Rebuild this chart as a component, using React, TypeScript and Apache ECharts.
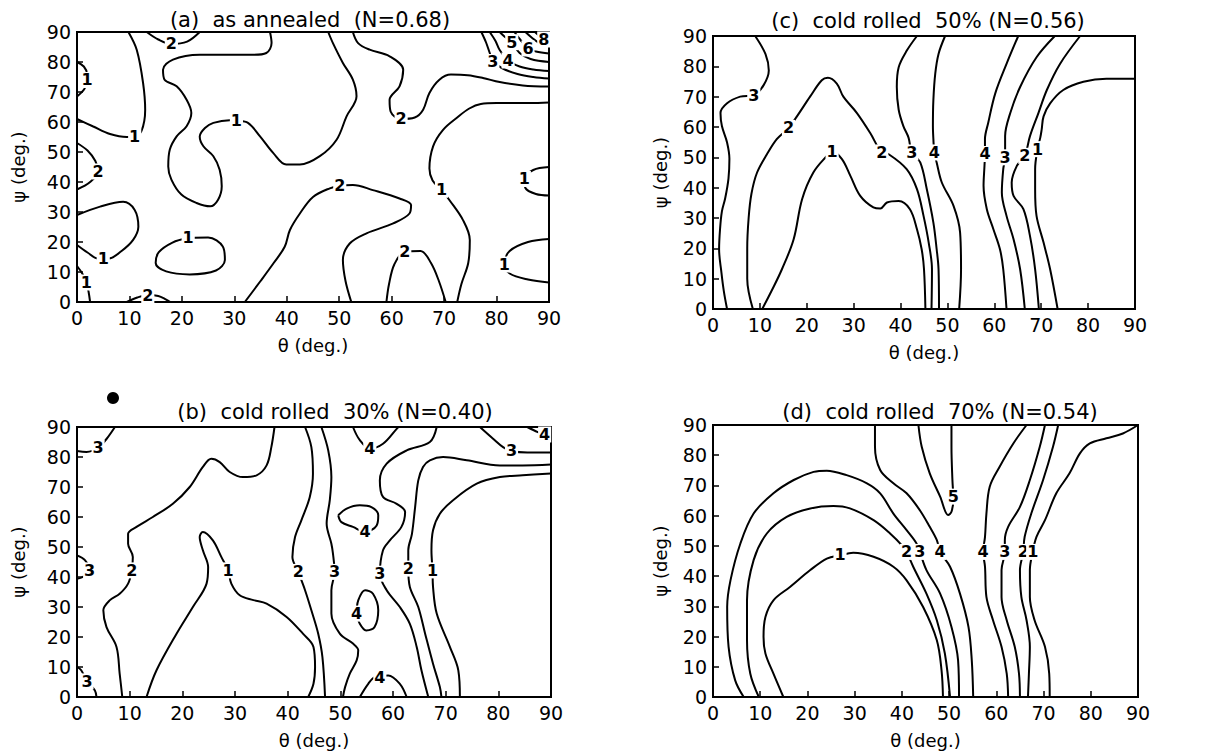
import React, { useEffect, useRef } from "react";
import * as echarts from "echarts";

type P = [number, number];
type L = [number, number, string];

// ---------- Panel (a) as annealed ----------
const a_1_left: P[] = [[9.8,90],[11.4,84],[12.6,73],[13,64],[12.3,57],[11,55.2],[9.5,55],[6.3,56],[3.1,58.5],[0,61]];
const a_1_tiny: P[] = [[0,80],[1.3,78.5],[1.9,76],[1.9,73.5],[1.4,71],[0,68.5]];
const a_2_left: P[] = [[0,53],[2,50.5],[3.5,47],[4,43.5],[2.5,40],[0,37.5]];
const a_1_lowleft: P[] = [[0,29],[4.4,31.8],[8.8,33.4],[11,30.7],[11.7,25.1],[10.7,20.7],[8.5,17],[6,14.5],[4,14.5],[2,16.5],[0,19]];
const a_1_bottomleft: P[] = [[0,12],[1,9.5],[1.8,6.5],[2.2,3.5],[2.5,0]];
const a_2_top: P[] = [[13.3,90],[15.5,87.5],[18,86],[21,86.8],[23.4,90]];
const a_1_mid: P[] = [[36.8,90],[37.1,86.3],[36.1,83],[33.6,82.4],[28.5,82.4],[23.4,82.4],[18.3,80.8],[16.4,77.4],[16.7,74.1],[19,71.9],[20.9,67.4],[21.8,63],[20.9,58.6],[19,55.2],[17.7,50.8],[17.4,45.2],[18,40.8],[19.9,35.8],[22.8,33],[25.4,31.9],[26.9,34.1],[27.6,38.6],[27.2,44.1],[26,48.6],[24.1,51.9],[23.4,55.2],[24.4,58],[26,59.7],[29.1,60.6],[30.4,60.4],[32.6,59.7],[34.9,55.2],[37.4,49.7],[39.9,45.8],[42.5,45.8],[46.3,48.6],[49.5,54.1],[51.4,61.9],[53.3,68.6],[52.6,74.1],[50.7,79.7],[48.8,86.3],[47.9,90]];
const a_2_right: P[] = [[52.6,90],[53.6,86.3],[55.8,84.1],[59.6,81.9],[62.2,77.4],[61.5,71.9],[59.6,67.4],[59.8,63.5],[61.8,61],[64.4,61.5],[66,64.1],[67.2,69.7],[69.1,74.1],[71.3,75.8],[74.5,75.6],[77.4,74.7],[80.6,73.3],[85,72.2],[90,71.8]];
const a_1_right: P[] = [[90,66.5],[86.3,66.3],[80,66.3],[77,66],[74.8,64.5],[72.5,61.5],[69.8,57.4],[67.9,51.9],[67.2,44.5],[67.8,40.5],[69.5,37.4],[71,34],[73.6,27.3],[74.9,20.7],[74.6,13],[73.3,6],[72.5,0]];
const a_2_mid: P[] = [[32,0],[35,7],[37.5,13],[39.6,18.4],[40.6,24],[42.5,29.5],[45,35],[48.2,37.9],[50.1,38.7],[52.6,39],[56.4,37.3],[61.5,34.5],[63.7,32.3],[63.4,29.5],[60.3,26.2],[55.2,22.9],[52,19.5],[50.7,14],[51.2,7],[52.3,0]];
const a_1_loop: P[] = [[21.2,21.4],[25,21.5],[27.8,18.5],[28.2,14],[26.5,10.5],[21.5,9.2],[17,10.2],[15,13],[15.6,16.6],[18.2,19.8],[21.2,21.4]];
const a_2_small: P[] = [[9.5,0],[11.5,1.5],[13.5,2.3],[15.5,2],[17,0.8],[17.8,0]];
const a_2_bottom: P[] = [[59,0],[59.5,6],[60.5,12.5],[62.5,16.8],[65.5,17],[67.5,13],[69,7],[70.3,0]];
const a_1_edge40: P[] = [[90,45],[87,44],[85.3,41],[85.5,38],[87.5,36],[90,35.5]];
const a_1_edge12: P[] = [[90,21],[86,20],[82.5,17],[81.5,12.5],[82.5,9.5],[86,7.5],[90,6.5]];
const a_3: P[] = [[77.1,90],[78,86.5],[78.7,83],[79.3,80.3],[81,78],[84,76],[87,75],[90,74.5]];
const a_4: P[] = [[78.7,90],[79.8,87],[80.6,84],[82.2,80.5],[84.4,78.5],[87,77.5],[90,77]];
const a_5: P[] = [[80.6,90],[81.5,88.5],[82.9,86.6],[84.4,83],[86.5,81],[90,80]];
const a_6: P[] = [[83.4,90],[84.5,87.5],[86,84.5],[87.5,83.5],[90,82.8]];
const a_7: P[] = [[85.5,90],[86.8,88],[88,86.5],[90,85.5]];
const a_8: P[] = [[87.3,90],[88.3,88.5],[89,87.5],[90,87]];
const panelA_lines: P[][] = [a_1_left, a_1_tiny, a_2_left, a_1_lowleft, a_1_bottomleft, a_2_top, a_1_mid, a_2_right, a_1_right, a_2_mid, a_1_loop, a_2_small, a_2_bottom, a_1_edge40, a_1_edge12, a_3, a_4, a_5, a_6, a_7, a_8];
const panelA_labels: L[] = [[11,55.2,"1"],[1.9,74,"1"],[4,43.5,"2"],[5,14.4,"1"],[1.8,6.5,"1"],[18,86,"2"],[30.4,60.4,"1"],[61.8,61,"2"],[69.5,37.4,"1"],[50.1,38.7,"2"],[21.2,21.4,"1"],[13.5,2.3,"2"],[62.5,16.8,"2"],[85.3,41,"1"],[81.5,12.5,"1"],[79.3,80,"3"],[82.2,80.5,"4"],[82.9,86.6,"5"],[86,84.5,"6"],[89,87.5,"8"]];

// ---------- Panel (b) cold rolled 30% ----------
const b_3_tl: P[] = [[7.2,90],[5.6,86],[4,83],[1.8,81.7],[0,82]];
const b_3_l: P[] = [[0,47.2],[1.5,45.6],[2.4,42.2],[1.1,40],[0,39.4]];
const b_3_bl: P[] = [[0,10],[0.8,8.9],[1.9,5.2],[3.4,2.2],[3.7,0]];
const b_2_a: P[] = [[8.6,0],[8.1,7.8],[7.5,16.7],[5.6,23.3],[5,28.9],[6.2,32.2],[8.1,34.4],[9.7,37.8],[10.4,42.2],[10.6,46.7],[9.7,51.1],[9.7,54.4],[11.3,56.7],[14.4,60],[18.2,64.4],[21.4,70],[23.9,76.7],[25.5,79.4],[27.1,78.3],[29,75],[31.5,73.3],[34.1,73.9],[36,77.2],[36.9,83.3],[37.5,90]];
const b_1: P[] = [[13.2,0],[15.1,8.9],[18.9,21.1],[22,30],[24.6,37.8],[24.9,43.3],[23.9,48.9],[23.3,53.3],[23.9,55],[25.8,52.2],[27.4,46.7],[28.7,42.2],[29.3,37.8],[30.9,33.9],[33.5,32.3],[36,31.1],[39.8,26.7],[42.9,21.1],[44.9,16.7],[45.2,10],[44.9,4.4],[43.9,0]];
const b_2_b: P[] = [[43.3,90],[44.5,83.3],[44.8,74.4],[44.2,66.7],[42.6,58.9],[41.4,53.3],[40.9,46.7],[42,41.7],[43.3,35.6],[44.5,28.9],[45.8,21.1],[46.6,13.3],[47.1,0]];
const b_3_b: P[] = [[46.4,90],[47.7,82.2],[48.3,73.3],[48,65.6],[47.4,57.8],[48.3,51.1],[48.6,47.8],[48.9,41.7],[48.3,35.6],[48.3,27.8],[49.9,21.1],[52.4,17.8],[53.4,15.6],[53.1,12.2],[51.8,7.8],[50.9,3.3],[50.5,0]];
const b_4_top: P[] = [[52.4,90],[53.7,85.6],[55.6,82.8],[58.1,84.4],[60.7,89.4],[61,90]];
const b_4_up: P[] = [[49.6,60.6],[51.2,62.8],[53.7,63.9],[55.9,63.3],[57.2,60.6],[56.9,57.2],[54.7,55],[52.4,56.7],[50.2,58.3],[49.6,60.6]];
const b_4_low: P[] = [[53.1,27.8],[53.4,32.2],[54.7,35.6],[56.2,34.4],[57.2,28.9],[56.5,23.3],[54.9,22.2],[53.7,24.4],[53.1,27.8]];
const b_4_bot: P[] = [[53.7,0],[55.3,4.4],[56.6,6.7],[59.1,7.2],[61.3,4.4],[62.6,0]];
const b_3_c: P[] = [[68.3,90],[67,85],[62.6,82.2],[58.8,77.8],[57.5,72.2],[58.1,66.7],[60.7,64.4],[62.3,61.7],[61.6,56.7],[59.4,52.2],[58.1,48.9],[57.5,41.1],[58.8,35.6],[61.3,30],[63.2,24.4],[64.5,16.7],[65.4,8.9],[66.7,0]];
const b_2_c: P[] = [[90,77.5],[84.6,77.2],[80.3,77.2],[74,78.9],[69.5,80],[67,78.9],[65.7,76.7],[64.8,72.2],[64.2,63.3],[63.6,54.4],[62.9,48.9],[62.9,42.8],[63.2,36.7],[64.8,30],[66.1,21.1],[67.6,11.1],[68.9,3.3],[69.2,0]];
const b_1_c: P[] = [[90,74.5],[84.6,73.9],[80.3,73.3],[75.9,71.1],[71.4,65.6],[68.9,61.1],[67.6,55.6],[67.3,48.9],[67.5,42.2],[67.6,36.7],[68.3,27.8],[70.8,16.7],[72.4,8.9],[72.7,0]];
const b_3_tr: P[] = [[76.5,90],[79,86.1],[80.9,83.3],[82.5,82],[85.5,81.5],[90,81.5]];
const b_4_tr: P[] = [[85.5,90],[87.5,88.3],[88.8,87.5],[90,87.2]];
const panelB_lines: P[][] = [b_3_tl, b_3_l, b_3_bl, b_2_a, b_1, b_2_b, b_3_b, b_4_top, b_4_up, b_4_low, b_4_bot, b_3_c, b_2_c, b_1_c, b_3_tr, b_4_tr];
const panelB_labels: L[] = [[4,83,"3"],[2.4,42.2,"3"],[1.9,5.2,"3"],[10.4,42.2,"2"],[28.7,42.2,"1"],[42,41.7,"2"],[48.9,41.7,"3"],[55.6,82.8,"4"],[54.7,55,"4"],[53.1,27.8,"4"],[57.5,6.6,"4"],[57.5,41.1,"3"],[62.9,42.8,"2"],[67.5,42.2,"1"],[82.5,82,"3"],[88.8,87.5,"4"]];

// ---------- Panel (c) cold rolled 50% ----------
const c_3: P[] = [[9,90],[11.2,84],[11.9,78.6],[10.8,73.8],[8.7,70.5],[5.8,70],[3,67.8],[1.6,64.6],[1.9,60.3],[3,54.9],[3.5,49.5],[3.3,43],[2.6,36.5],[1.9,32.2],[1.5,26.3],[1.3,19.7],[1.8,12],[2.3,6],[3,0]];
const c_2: P[] = [[8.5,0],[7.3,10],[7.3,20],[7.6,30],[8.2,38],[9.4,45],[11.5,51],[13.6,56],[16.1,59.7],[17.9,63.5],[20.7,70],[23.2,75.4],[24.5,76.2],[26.4,74.3],[27.8,70],[30.7,64.6],[33.5,58.1],[36,51.6],[37.4,51.1],[41.3,46.1],[43.5,39.5],[44.9,30.7],[46,21.9],[46.7,13.1],[46.6,0]];
const c_1: P[] = [[10.5,0],[12.5,6],[14.7,13.1],[17.2,23],[19,36.2],[21.4,45],[24.3,50.5],[25.4,52],[27.5,49.4],[29.3,43.9],[31.4,37.3],[34.2,33.5],[35.7,33.1],[37.1,35.1],[39.6,35.6],[42,32.9],[43.5,26.3],[44.5,19.7],[45,13.1],[45.3,0]];
const c_3b: P[] = [[43.5,90],[41.3,85.1],[39.6,79.7],[39.2,73.2],[39.6,65.7],[40.6,60.3],[41.7,56.5],[42.4,51.6],[44.2,48.3],[45.6,39.5],[47,28.5],[47.7,19.7],[48.1,13.1],[48.2,0]];
const c_4: P[] = [[49.5,90],[48.1,84.1],[47.4,77.6],[47,68.9],[46.9,60.3],[47,56],[47.2,51.6],[47.7,48.3],[48.8,41.7],[51.3,34],[52.7,25.2],[52.9,13.1],[52.5,0]];
const c_4r: P[] = [[65.1,90],[62.6,80.8],[60.2,71.1],[58.7,61.4],[58,56],[58,51.1],[57.9,47.2],[57.7,40.6],[58.4,32.9],[59.8,26.3],[61.2,19.7],[61.9,13.1],[62.6,0]];
const c_3r: P[] = [[72.9,90],[69,83],[65.5,73.2],[63.4,64.6],[62.3,57],[62.3,50],[61.9,46.1],[61.6,38.4],[62.6,30.7],[64.1,23],[65.5,13.1],[66.5,0]];
const c_2r: P[] = [[78.3,90],[74,80.8],[71.2,72.2],[69.4,64.6],[67.6,57],[66.5,50.5],[64.8,47.2],[63.7,41.7],[64.1,37.3],[66.2,32.9],[67.6,24.1],[68.7,13.1],[69.5,0]];
const c_1r: P[] = [[90,75.9],[83.9,75.9],[79,74.9],[74.7,72.2],[71.9,67.8],[70.5,63.5],[70.1,59.2],[69.8,56.5],[69.2,52.7],[68.7,46.1],[68.7,39.5],[69,30.7],[70.5,21.9],[71.9,13.1],[73.5,0]];
const panelC_lines: P[][] = [c_3, c_2, c_1, c_3b, c_4, c_4r, c_3r, c_2r, c_1r];
const panelC_labels: L[] = [[8.7,70.5,"3"],[16.1,59.7,"2"],[25.4,52,"1"],[36,51.6,"2"],[42.4,51.6,"3"],[47.2,51.6,"4"],[58,51.1,"4"],[62.3,50,"3"],[66.5,50.5,"2"],[69.2,52.7,"1"]];

// ---------- Panel (d) cold rolled 70% ----------
const d_1: P[] = [[14.9,0],[12.8,7.7],[11.1,14.4],[10.7,19.9],[11.1,26.5],[12.8,32],[16.3,36.4],[20.6,42],[24.1,45.8],[26.9,46.9],[29.7,47.7],[34,46.4],[38.2,43.1],[41,38.6],[44.5,29.8],[47.4,18.8],[48.4,8.8],[48.7,0]];
const d_2: P[] = [[9.7,0],[7.9,7.7],[7.2,18.8],[7.2,32],[8.6,45.3],[11.4,54.1],[15.6,59.6],[20.6,62.4],[25.5,63.2],[29,62.4],[34,58.5],[37.5,54.1],[40.3,49.7],[41,48],[42.4,43.1],[45.2,34.2],[47.4,25.4],[49.1,14.4],[50.2,0]];
const d_3: P[] = [[6.5,0],[4.7,5.5],[3.3,16.6],[3,29.8],[3.7,38.6],[5.8,50.8],[8.6,60.7],[12.8,67.4],[17.1,71.8],[21.3,74.5],[24.1,74.9],[28.3,73.4],[32.6,70.7],[35.4,67.4],[38.2,60.7],[41,55.2],[43.1,50.8],[43.8,48],[45.2,42],[48.1,34.2],[50.5,23.2],[51.9,12.1],[52.1,0]];
const d_4: P[] = [[34.3,90],[34.3,82.8],[35.4,75.1],[38.2,70.7],[41,67.4],[43.8,61.8],[45.9,56.3],[47.4,51.9],[48.1,48],[50.2,43.1],[52.3,34.2],[54.1,23.2],[54.8,12.1],[55.1,0]];
const d_5: P[] = [[43.5,90],[44.2,82.8],[45.9,74],[48.1,66.3],[49.8,60.2],[50.5,61.3],[50.9,65.5],[50.7,71.8],[50.5,82.8],[50.5,90]];
const d_4r: P[] = [[66.4,90],[63.6,83.9],[60.7,76.2],[58.6,69.6],[57.9,60.7],[57.6,53],[57.2,48],[57.6,43.1],[57.9,33.1],[59.3,25.4],[61.1,16.6],[62.2,7.7],[62.5,0]];
const d_3r: P[] = [[70.3,90],[69.2,82.8],[67.1,71.8],[65,62.9],[62.5,56.3],[61.8,51.9],[61.8,48],[61.1,42],[61.1,33.1],[62.2,25.4],[63.9,16.6],[64.8,7.7],[65,0]];
const d_2r: P[] = [[73.1,90],[72,82.8],[69.9,71.8],[67.4,60.7],[66,53],[65.7,48],[65,42],[65.3,33.1],[66.4,25.4],[67.1,16.6],[66.9,7.7],[66.7,0]];
const d_1r: P[] = [[90,90],[86.8,87.2],[83.3,85.6],[79.8,83.9],[77.7,80.6],[75.5,74],[72.7,67.4],[70.3,58.5],[68.5,53],[67.7,48],[67.1,42],[67.1,33.1],[68.1,25.4],[70.3,16.6],[71.2,7.7],[71.3,0]];
const panelD_lines: P[][] = [d_1, d_2, d_3, d_4, d_5, d_4r, d_3r, d_2r, d_1r];
const panelD_labels: L[] = [[26.9,47,"1"],[41,48,"2"],[43.8,48,"3"],[48.1,48,"4"],[50.9,66.3,"5"],[57.2,48,"4"],[61.8,48,"3"],[65.7,48,"2"],[67.7,48,"1"]];

const titles = ["(a)  as annealed  (N=0.68)", "(c)  cold rolled  50% (N=0.56)", "(b)  cold rolled  30% (N=0.40)", "(d)  cold rolled  70% (N=0.54)"];

const FONT = "DejaVu Sans";

export default function App() {
  const ref = useRef<HTMLDivElement>(null);
  useEffect(() => {
    if (!ref.current) return;
    const chart = echarts.init(ref.current, undefined, { renderer: "svg" });
    const grids = [
      { left: 77, top: 32, width: 472, height: 270 },
      { left: 713, top: 36, width: 422, height: 273 },
      { left: 77, top: 427, width: 474, height: 270 },
      { left: 713, top: 425, width: 425, height: 272 },
    ];
    const titlePos = [[310, 20], [928, 21], [335, 412], [940, 412]];
    const yGap = [50, 44, 50, 44];
    const panels = [
      { lines: panelA_lines, labels: panelA_labels },
      { lines: panelC_lines, labels: panelC_labels },
      { lines: panelB_lines, labels: panelB_labels },
      { lines: panelD_lines, labels: panelD_labels },
    ];
    const series: any[] = [];
    panels.forEach((p, i) => {
      p.lines.forEach((pts) => {
        series.push({
          type: "line", xAxisIndex: i, yAxisIndex: i, data: pts, smooth: 0.35,
          symbol: "none", silent: true, z: 2,
          lineStyle: { color: "#000", width: 2 },
        });
      });
      series.push({
        type: "scatter", xAxisIndex: i, yAxisIndex: i, z: 5, silent: true,
        data: p.labels.map((l) => [l[0], l[1], l[2]]),
        symbol: "rect", symbolSize: 0.01, itemStyle: { color: "#000", opacity: 0 },
        label: {
          show: true, position: [0, 0], align: "center", verticalAlign: "middle",
          formatter: (q: any) => q.value[2],
          fontSize: 16, lineHeight: 16, fontWeight: "bold", color: "#000", opacity: 1, fontFamily: FONT,
          textBorderWidth: 0,
          backgroundColor: "#fff", padding: [0, 1],
        },
      });
    });
    const axisCommon = {
      type: "value", min: 0, max: 90, interval: 10,
      axisLine: { show: true, lineStyle: { color: "#000", width: 2 } },
      axisTick: { show: true, inside: true, length: 6, lineStyle: { color: "#000", width: 1.5 } },
      splitLine: { show: false },
      axisLabel: { fontSize: 19, color: "#000", fontFamily: FONT, margin: 6, formatter: (v: number) => String(v) },
      nameLocation: "middle",
      nameTextStyle: { fontSize: 18, color: "#000", fontFamily: FONT },
    };
    const option: any = {
      animation: false,
      backgroundColor: "#fff",
      grid: grids.map((g) => ({ ...g, show: true, borderColor: "#000", borderWidth: 2, backgroundColor: "transparent" })),
      xAxis: grids.map((_, i) => ({ ...axisCommon, gridIndex: i, name: "θ (deg.)", nameGap: 34 })),
      yAxis: grids.map((_, i) => ({ ...axisCommon, gridIndex: i, name: "ψ (deg.)", nameGap: yGap[i], nameRotate: 90 })),
      series,
      graphic: [
        ...titles.map((t, i) => ({
          type: "text", x: titlePos[i][0], y: titlePos[i][1],
          style: { text: t, fontSize: 21, fontFamily: FONT, fill: "#000", textAlign: "center", textVerticalAlign: "middle" },
        })),
        { type: "circle", shape: { cx: 113, cy: 398, r: 6 }, style: { fill: "#000" } },
      ],
    };
    chart.setOption(option);
    return () => chart.dispose();
  }, []);
  return <div ref={ref} style={{ position: "fixed", left: 0, top: 0, width: 1228, height: 754, background: "#fff" }} />;
}
